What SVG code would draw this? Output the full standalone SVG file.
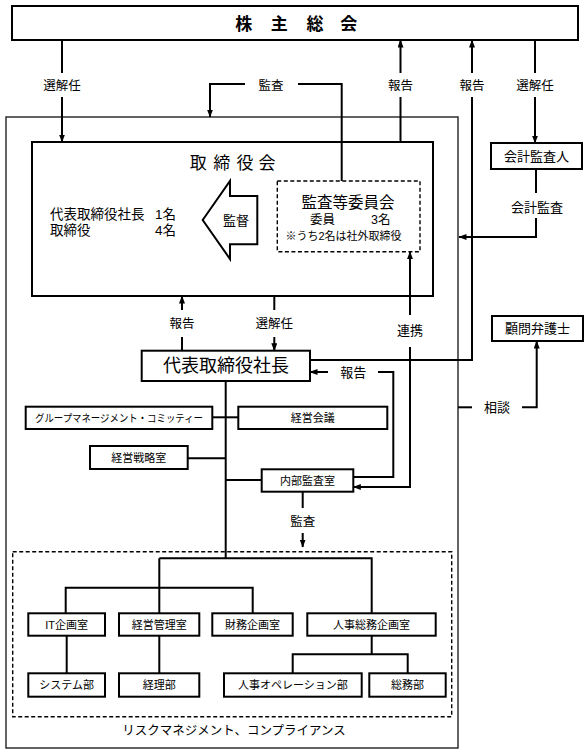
<svg xmlns="http://www.w3.org/2000/svg" width="588" height="755" viewBox="0 0 588 755">
<defs>
<style>
.box{fill:#fff;stroke:#000;stroke-width:2}
.dash{fill:none;stroke:#000;stroke-width:1.4;stroke-dasharray:4 2.5}
.ln{fill:none;stroke:#000;stroke-width:2}
.arr{marker-end:url(#ah)}
text{font-family:"Liberation Sans","Noto Sans CJK JP",sans-serif;fill:#000;dominant-baseline:central;text-anchor:middle}
.s11{font-size:11px}
.s12{font-size:12.5px}
.s13{font-size:13px}
</style>
<marker id="ah" viewBox="0 0 8 6" refX="7.5" refY="3" markerWidth="8" markerHeight="6" orient="auto-start-reverse" markerUnits="userSpaceOnUse">
<path d="M0,0 L8,3 L0,6 z" fill="#000"/>
</marker>
</defs>
<rect width="588" height="755" fill="#fff"/>

<g id="outer">
<rect x="6" y="117" width="452" height="631" fill="none" stroke="#222" stroke-width="1.4"/>
<rect class="dash" x="12.7" y="551.7" width="439" height="165"/>
<text class="s12" x="234" y="731">リスクマネジメント、コンプライアンス</text>
</g>

<g id="shareholders">
<rect class="box" x="12" y="6" width="566" height="34"/>
<text style="font-size:17px;font-weight:bold" x="243.7 279.3 315 348.7" y="24">株主総会</text>
</g>

<g id="board">
<rect class="box" x="32" y="142" width="401" height="154"/>
<text style="font-size:17px" x="198.3 221.7 245 267" y="163">取締役会</text>
<text style="font-size:13.5px;text-anchor:start" x="50" y="214">代表取締役社長</text>
<text style="font-size:13.5px;text-anchor:start" x="155" y="214">1名</text>
<text style="font-size:13.5px;text-anchor:start" x="50" y="230">取締役</text>
<text style="font-size:13.5px;text-anchor:start" x="155" y="230">4名</text>
</g>

<g id="supervise">
<polygon points="202.7,220 230,181 230,196 257.3,196 257.3,244.3 230,244.3 230,259" fill="#fff" stroke="#000" stroke-width="2"/>
<text class="s13" x="236" y="220">監督</text>
</g>

<g id="audit-committee">
<rect class="dash" x="277.3" y="181" width="142.7" height="70.7"/>
<text style="font-size:15.5px" x="348" y="202">監査等委員会</text>
<text class="s12" style="text-anchor:start" x="310" y="219.5">委員</text>
<text class="s12" style="text-anchor:start" x="371" y="219.5">3名</text>
<text class="s11" x="343.5" y="236">※うち2名は社外取締役</text>
</g>

<g id="accounting-auditor">
<rect class="box" x="491" y="143" width="91" height="26"/>
<text class="s13" x="536.5" y="156">会計監査人</text>
</g>

<g id="lawyer">
<rect class="box" x="492" y="316" width="91" height="25"/>
<text class="s13" x="537.5" y="328.5">顧問弁護士</text>
</g>

<g id="president">
<rect class="box" x="141.7" y="350.7" width="168.3" height="30.3"/>
<text style="font-size:18px" x="226" y="366">代表取締役社長</text>
</g>

<g id="group-committee">
<rect class="box" x="25.7" y="406.7" width="186.6" height="22.3"/>
<text style="font-size:10.5px" x="119" y="418" textLength="168" lengthAdjust="spacingAndGlyphs">グループマネージメント・コミッティー</text>
</g>

<g id="management-meeting">
<rect class="box" x="238.3" y="406.7" width="149" height="22.3"/>
<text class="s11" x="312.8" y="418">経営会議</text>
</g>

<g id="strategy">
<rect class="box" x="90" y="446" width="97.7" height="23"/>
<text class="s11" x="138.8" y="457.5">経営戦略室</text>
</g>

<g id="internal-audit">
<rect class="box" x="261.7" y="469.3" width="91.6" height="22.4"/>
<text class="s11" x="307.5" y="480.5">内部監査室</text>
</g>

<g id="it-planning">
<rect class="box" x="28.3" y="613.3" width="76.7" height="22.4"/>
<text class="s11" x="66.7" y="624.5">IT企画室</text>
</g>
<g id="mgmt-admin">
<rect class="box" x="119" y="613.3" width="80.3" height="22.4"/>
<text class="s11" x="159.2" y="624.5">経営管理室</text>
</g>
<g id="finance">
<rect class="box" x="212.3" y="613.3" width="80.4" height="22.4"/>
<text class="s11" x="252.5" y="624.5">財務企画室</text>
</g>
<g id="hr-ga">
<rect class="box" x="307.3" y="613.3" width="128.4" height="22.4"/>
<text class="s11" x="371.5" y="624.5">人事総務企画室</text>
</g>
<g id="system">
<rect class="box" x="28.3" y="673.3" width="76.7" height="23.4"/>
<text class="s11" x="66.7" y="685">システム部</text>
</g>
<g id="accounting">
<rect class="box" x="119" y="673.3" width="80.3" height="23.4"/>
<text class="s11" x="159.2" y="685">経理部</text>
</g>
<g id="hr-ops">
<rect class="box" x="224" y="673.3" width="137.7" height="23.4"/>
<text class="s11" x="292.8" y="685">人事オペレーション部</text>
</g>
<g id="general-affairs">
<rect class="box" x="369.3" y="673.3" width="76.4" height="23.4"/>
<text class="s11" x="407.5" y="685">総務部</text>
</g>

<g id="connectors">
<path class="ln" d="M62,40 V73"/>
<path class="ln arr" d="M62,97 V142"/>
<path class="ln" d="M341.7,181 V84 H298"/>
<path class="ln arr" d="M245,84 H210 V117"/>
<path class="ln" d="M400.5,142 V97"/>
<path class="ln arr" d="M400.5,73 V40"/>
<path class="ln" d="M310,360 H472 V97"/>
<path class="ln arr" d="M472,73 V40"/>
<path class="ln" d="M535,40 V73"/>
<path class="ln arr" d="M535,97 V143"/>
<path class="ln" d="M536,169 V193"/>
<path class="ln arr" d="M536,218 V237 H459"/>
<path class="ln" d="M182,350 V337"/>
<path class="ln arr" d="M182,310 V296"/>
<path class="ln" d="M274.3,296 V310"/>
<path class="ln arr" d="M274.3,337 V350.7"/>
<path class="ln" d="M353.3,477 H393.3 V372 H378"/>
<path class="ln arr" d="M328,372 H310"/>
<path class="ln arr" d="M410,315 V251.7"/>
<path class="ln arr" d="M410,347 V487 H353.3"/>
<path class="ln" d="M458,407.3 H472"/>
<path class="ln arr" d="M522,407.3 H536.7 V341"/>
<path class="ln" d="M225.7,381 V558.3"/>
<path class="ln" d="M212.3,417.3 H238.3"/>
<path class="ln" d="M187.7,458.3 H225.7"/>
<path class="ln" d="M225.7,480 H261.7"/>
<path class="ln" d="M302.7,491.7 V508"/>
<path class="ln arr" d="M302.7,533 V547"/>
<path class="ln" d="M159.3,558.3 H371.7 V613.3"/>
<path class="ln" d="M159.3,558.3 V613.3"/>
<path class="ln" d="M65.7,613.3 V587.7 H252.7 V613.3"/>
<path class="ln" d="M66.7,635.7 V673.3"/>
<path class="ln" d="M159.3,635.7 V673.3"/>
<path class="ln" d="M371.7,635.7 V654.3"/>
<path class="ln" d="M292.7,673.3 V654.3 H407.7 V673.3"/>
<text class="s12" x="62" y="86">選解任</text>
<text class="s12" x="271" y="86">監査</text>
<text class="s12" x="400.5" y="86">報告</text>
<text class="s12" x="472" y="86">報告</text>
<text class="s12" x="535" y="86">選解任</text>
<text class="s13" x="537" y="207">会計監査</text>
<text class="s12" x="182" y="323.5">報告</text>
<text class="s12" x="274.3" y="323.5">選解任</text>
<text class="s13" x="353.3" y="372.5">報告</text>
<text class="s13" x="410" y="330.5">連携</text>
<text class="s13" x="497" y="407.5">相談</text>
<text class="s12" x="302.7" y="522">監査</text>
</g>
</svg>
